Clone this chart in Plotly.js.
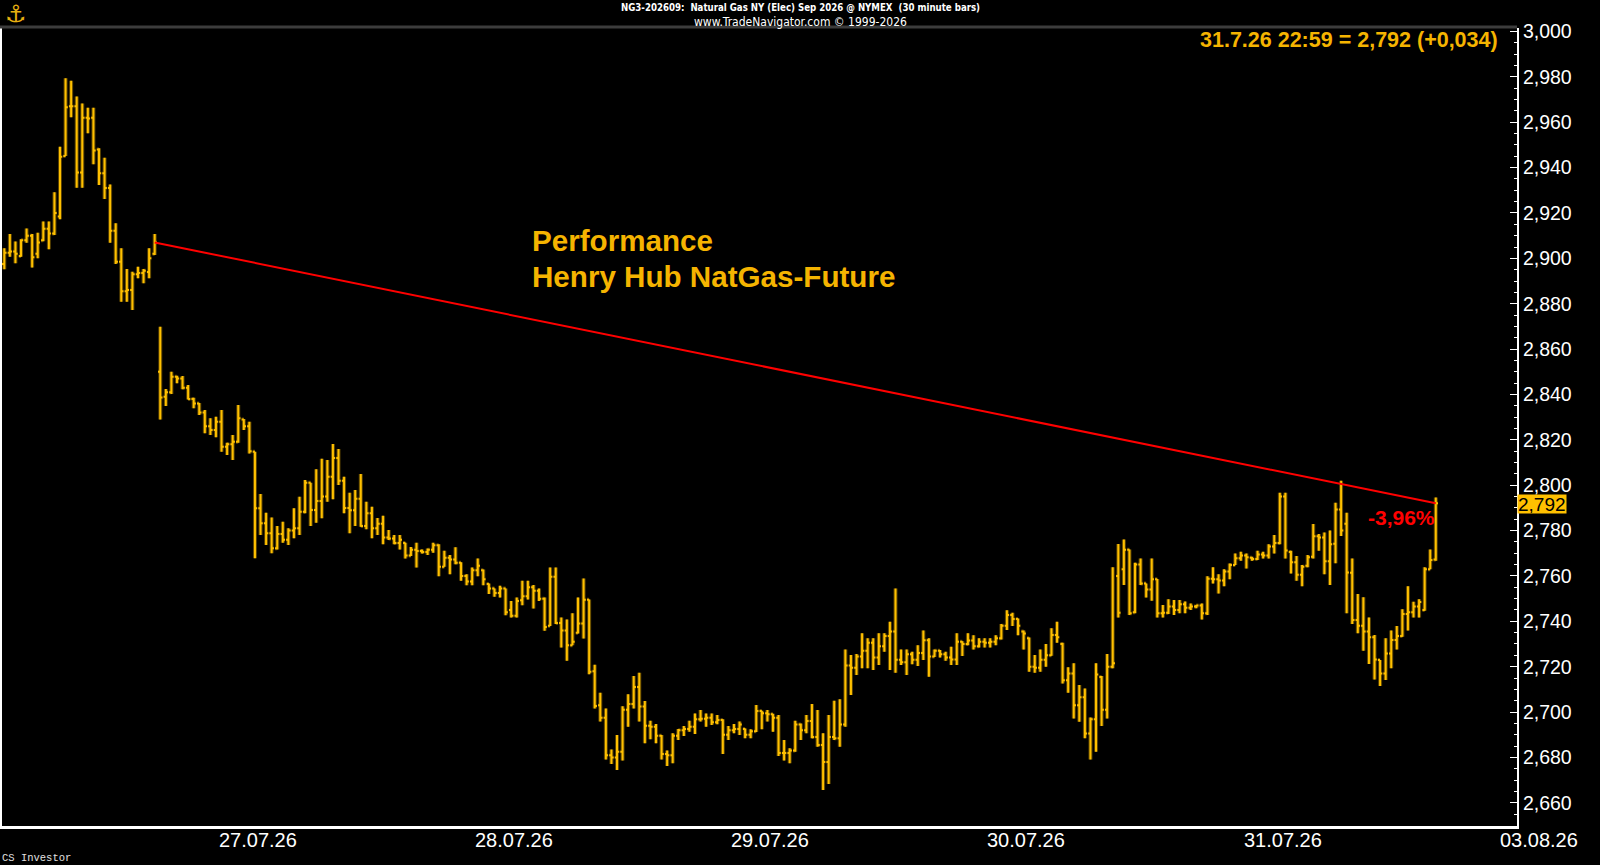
<!DOCTYPE html>
<html>
<head>
<meta charset="utf-8">
<script src="https://cdn.plot.ly/plotly-3.0.1.min.js"></script>
<style>
  html, body { margin: 0; padding: 0; background: #000; }
  #chart { width: 1600px; height: 865px; }
</style>
</head>
<body>
<div id="chart"></div>
<script>
// ---------------- DATA (30-minute bars, NG Sep 2026) ----------------
const barOpen = [
2.8975,2.9025,2.9030,2.9010,2.9080,2.9100,2.9020,2.9080,2.9130,2.9110,
2.9184,2.9451,2.9670,2.9670,2.9378,2.9620,2.9620,2.9480,2.9375,2.9310,
2.9122,2.8985,2.8855,2.8860,2.8930,2.8935,2.8940,2.9020,
2.8500,2.8390,2.8410,2.8478,2.8470,2.8430,2.8380,2.8360,2.8320,2.8260,
2.8243,2.8280,2.8170,2.8180,2.8192,2.8290,2.8260,2.8148,2.7898,2.7832,
2.7788,2.7722,2.7785,2.7760,2.7800,2.7810,2.7883,2.8011,2.7891,2.7930,
2.7950,2.8037,2.8120,2.8020,2.7900,2.7890,2.7940,2.7820,2.7876,2.7810,
2.7830,2.7770,2.7765,2.7745,2.7745,2.7690,
2.7715,2.7710,2.7705,2.7715,2.7735,2.7640,2.7680,2.7672,2.7658,2.7600,
2.7575,2.7625,2.7625,2.7565,2.7545,2.7525,2.7545,2.7450,2.7425,2.7493,
2.7510,2.7550,2.7535,2.7500,2.7380,2.7596,2.7393,2.7360,2.7295,2.7350,
2.7390,2.7495,2.7180,2.7030,2.6975,2.6810,2.6800,2.6825,2.7010,2.7035,
2.7110,2.7025,2.6940,2.6935,2.6895,2.6815,
2.6810,2.6895,2.6920,2.6925,2.6935,2.6968,2.6970,2.6975,2.6955,2.6965,
2.6900,2.6920,2.6925,2.6925,2.6900,2.6915,2.7005,2.6995,2.6990,2.6975,
2.6820,2.6820,2.6830,2.6945,2.6920,2.6960,2.6890,2.6855,2.6780,2.6890,
2.6885,2.6945,2.7205,2.7195,2.7245,2.7270,2.7305,2.7240,2.7290,2.7335,
2.7355,2.7230,2.7220,2.7255,2.7230,2.7260,
2.7317,2.7245,2.7270,2.7255,2.7240,2.7232,2.7310,2.7300,2.7315,2.7290,
2.7310,2.7305,2.7310,2.7325,2.7380,2.7428,2.7410,2.7355,2.7325,2.7200,
2.7195,2.7230,2.7250,2.7340,2.7300,2.7140,2.7170,2.7030,2.7065,2.6905,
2.6968,2.7155,2.7010,2.7200,2.7600,2.7630,2.7715,2.7440,2.7650,2.7567,
2.7540,2.7585,2.7435,2.7438,2.7465,2.7450,
2.7475,2.7460,2.7465,2.7470,2.7435,2.7588,2.7585,2.7580,2.7620,2.7648,
2.7678,2.7690,2.7680,2.7675,2.7695,2.7690,2.7730,2.7745,2.7950,2.7705,
2.7660,2.7605,2.7645,2.7685,2.7775,2.7770,2.7665,2.7742,2.7893,2.7830,
2.7614,2.7406,2.7380,2.7355,2.7330,2.7229,2.7170,2.7258,2.7318,2.7335,
2.7432,2.7440,2.7465,2.7450,2.7630,2.7673
];
const barHigh = [
2.9045,2.9107,2.9074,2.9084,2.9132,2.9107,2.9113,2.9162,2.9162,2.9291,
2.9492,2.9794,2.9783,2.9713,2.9683,2.9664,2.9664,2.9485,2.9444,2.9326,
2.9155,2.9044,2.8953,2.8941,2.8963,2.8953,2.9044,2.9107,
2.8699,2.8424,2.8500,2.8482,2.8481,2.8442,2.8385,2.8362,2.8331,2.8295,
2.8302,2.8331,2.8187,2.8221,2.8353,2.8292,2.8280,2.8148,2.7961,2.7879,
2.7858,2.7820,2.7839,2.7810,2.7898,2.7949,2.8023,2.8011,2.8070,2.8117,
2.8111,2.8182,2.8160,2.8037,2.7967,2.7979,2.8049,2.7927,2.7905,2.7855,
2.7865,2.7802,2.7780,2.7780,2.7746,2.7728,
2.7746,2.7717,2.7721,2.7746,2.7740,2.7711,2.7692,2.7726,2.7660,2.7608,
2.7637,2.7677,2.7628,2.7567,2.7545,2.7557,2.7545,2.7490,2.7505,2.7579,
2.7579,2.7560,2.7545,2.7505,2.7637,2.7637,2.7417,2.7408,2.7435,2.7505,
2.7589,2.7496,2.7208,2.7085,2.7016,2.6835,2.6899,2.7026,2.7078,2.7159,
2.7173,2.7049,2.6962,2.6947,2.6899,2.6830,
2.6906,2.6925,2.6938,2.6962,2.6994,2.7009,2.6994,2.6994,2.6987,2.6968,
2.6938,2.6947,2.6958,2.6928,2.6924,2.7031,2.7006,2.7009,2.6992,2.6987,
2.6877,2.6840,2.6962,2.6950,2.6987,2.7035,2.7009,2.6906,2.6987,2.7050,
2.7056,2.7276,2.7251,2.7256,2.7347,2.7325,2.7325,2.7347,2.7347,2.7398,
2.7545,2.7276,2.7276,2.7266,2.7295,2.7359,
2.7325,2.7276,2.7273,2.7266,2.7288,2.7347,2.7312,2.7347,2.7339,2.7325,
2.7325,2.7325,2.7339,2.7388,2.7449,2.7438,2.7412,2.7359,2.7329,2.7251,
2.7276,2.7300,2.7369,2.7398,2.7306,2.7197,2.7215,2.7119,2.7104,2.6976,
2.7215,2.7159,2.7256,2.7638,2.7741,2.7761,2.7717,2.7658,2.7677,2.7567,
2.7677,2.7587,2.7472,2.7497,2.7494,2.7494,
2.7487,2.7479,2.7472,2.7479,2.7599,2.7638,2.7608,2.7629,2.7655,2.7699,
2.7707,2.7699,2.7685,2.7711,2.7707,2.7740,2.7780,2.7967,2.7967,2.7711,
2.7688,2.7648,2.7692,2.7829,2.7785,2.7791,2.7800,2.7923,2.8020,2.7879,
2.7677,2.7520,2.7506,2.7417,2.7340,2.7229,2.7325,2.7359,2.7379,2.7453,
2.7555,2.7486,2.7497,2.7638,2.7717,2.7946
];
const barLow = [
2.8952,2.9007,2.8978,2.9007,2.9069,2.8960,2.9000,2.9075,2.9040,2.9103,
2.9172,2.9451,2.9622,2.9311,2.9311,2.9551,2.9415,2.9323,2.9262,2.9069,
2.8975,2.8809,2.8809,2.8772,2.8912,2.8890,2.8912,2.9015,
2.8290,2.8349,2.8402,2.8449,2.8423,2.8378,2.8339,2.8309,2.8229,2.8221,
2.8211,2.8148,2.8133,2.8111,2.8187,2.8243,2.8140,2.7678,2.7780,2.7736,
2.7700,2.7717,2.7746,2.7736,2.7766,2.7780,2.7876,2.7820,2.7835,2.7854,
2.7927,2.7938,2.8001,2.7876,2.7788,2.7820,2.7817,2.7806,2.7766,2.7780,
2.7740,2.7758,2.7740,2.7717,2.7677,2.7688,
2.7637,2.7699,2.7692,2.7702,2.7599,2.7640,2.7608,2.7652,2.7579,2.7559,
2.7559,2.7599,2.7559,2.7520,2.7508,2.7505,2.7427,2.7417,2.7417,2.7471,
2.7496,2.7457,2.7490,2.7358,2.7379,2.7388,2.7285,2.7226,2.7295,2.7346,
2.7324,2.7167,2.7016,2.6958,2.6791,2.6771,2.6744,2.6786,2.6935,2.7016,
2.6958,2.6862,2.6880,2.6862,2.6791,2.6762,
2.6774,2.6877,2.6894,2.6913,2.6903,2.6958,2.6935,2.6943,2.6946,2.6815,
2.6877,2.6906,2.6899,2.6884,2.6884,2.6912,2.6924,2.6958,2.6913,2.6806,
2.6786,2.6774,2.6825,2.6877,2.6906,2.6884,2.6847,2.6656,2.6683,2.6877,
2.6847,2.6935,2.7075,2.7163,2.7193,2.7193,2.7185,2.7207,2.7266,2.7185,
2.7173,2.7207,2.7163,2.7211,2.7203,2.7229,
2.7156,2.7243,2.7241,2.7226,2.7207,2.7207,2.7247,2.7295,2.7276,2.7285,
2.7285,2.7285,2.7295,2.7320,2.7362,2.7379,2.7339,2.7276,2.7178,2.7173,
2.7178,2.7200,2.7248,2.7306,2.7126,2.7085,2.6972,2.6957,2.6884,2.6791,
2.6825,2.6938,2.6972,2.7193,2.7417,2.7560,2.7428,2.7435,2.7560,2.7505,
2.7491,2.7417,2.7417,2.7432,2.7428,2.7435,
2.7435,2.7450,2.7458,2.7408,2.7428,2.7567,2.7523,2.7555,2.7585,2.7648,
2.7667,2.7633,2.7667,2.7670,2.7677,2.7677,2.7699,2.7740,2.7677,2.7611,
2.7579,2.7555,2.7638,2.7677,2.7711,2.7608,2.7560,2.7656,2.7776,2.7435,
2.7388,2.7347,2.7270,2.7212,2.7144,2.7115,2.7141,2.7193,2.7276,2.7332,
2.7359,2.7417,2.7417,2.7447,2.7629,2.7667
];
const barClose = [
2.9025,2.9030,2.9020,2.9080,2.9100,2.9005,2.9070,2.9130,2.9110,2.9200,
2.9448,2.9666,2.9670,2.9378,2.9620,2.9617,2.9475,2.9375,2.9310,2.9122,
2.8985,2.8855,2.8860,2.8930,2.8935,2.8945,2.9000,2.9070,
2.8387,2.8410,2.8478,2.8470,2.8430,2.8380,2.8360,2.8320,2.8260,2.8243,
2.8280,2.8170,2.8180,2.8192,2.8295,2.8260,2.8150,2.7898,2.7832,2.7788,
2.7722,2.7785,2.7760,2.7800,2.7810,2.7883,2.8011,2.7891,2.7930,2.7950,
2.8037,2.8120,2.8020,2.7900,2.7890,2.7940,2.7820,2.7876,2.7810,2.7830,
2.7770,2.7765,2.7745,2.7760,2.7690,2.7715,
2.7710,2.7705,2.7715,2.7735,2.7640,2.7680,2.7672,2.7658,2.7600,2.7575,
2.7625,2.7645,2.7585,2.7545,2.7525,2.7545,2.7440,2.7425,2.7490,2.7510,
2.7550,2.7535,2.7500,2.7375,2.7596,2.7393,2.7360,2.7295,2.7310,2.7390,
2.7495,2.7178,2.7027,2.6975,2.6810,2.6800,2.6825,2.7010,2.7035,2.7110,
2.7025,2.6940,2.6935,2.6895,2.6815,2.6810,
2.6895,2.6920,2.6925,2.6935,2.6968,2.6970,2.6975,2.6955,2.6965,2.6900,
2.6920,2.6925,2.6945,2.6900,2.6915,2.7005,2.6995,2.6990,2.6975,2.6820,
2.6820,2.6830,2.6945,2.6920,2.6960,2.6890,2.6855,2.6780,2.6890,2.6885,
2.6945,2.7205,2.7195,2.7245,2.7270,2.7305,2.7240,2.7290,2.7335,2.7355,
2.7230,2.7220,2.7255,2.7230,2.7260,2.7317,
2.7245,2.7270,2.7255,2.7240,2.7232,2.7310,2.7300,2.7315,2.7290,2.7310,
2.7305,2.7310,2.7325,2.7380,2.7428,2.7410,2.7380,2.7346,2.7200,2.7195,
2.7230,2.7250,2.7340,2.7330,2.7140,2.7170,2.7030,2.7065,2.6905,2.6968,
2.7165,2.7010,2.7200,2.7215,2.7438,2.7715,2.7435,2.7650,2.7567,2.7540,
2.7585,2.7435,2.7438,2.7465,2.7450,2.7475,
2.7460,2.7465,2.7470,2.7435,2.7588,2.7585,2.7580,2.7620,2.7648,2.7678,
2.7690,2.7682,2.7675,2.7695,2.7690,2.7730,2.7745,2.7950,2.7712,2.7660,
2.7605,2.7640,2.7682,2.7775,2.7770,2.7665,2.7740,2.7893,2.7800,2.7615,
2.7406,2.7380,2.7355,2.7330,2.7232,2.7170,2.7258,2.7318,2.7335,2.7432,
2.7440,2.7465,2.7485,2.7630,2.7670,2.7920
];

// session structure: 28 bars of the previous Friday, then sessions of 46 bars
const fridayBars = 28;
const barsPerSession = 46;
const dateLabels = ['27.07.26','28.07.26','29.07.26','30.07.26','31.07.26','03.08.26'];
const yTickStart = 2.660, yTickStep = 0.020, yMinorStep = 0.005;

// ---------------- LAYOUT GEOMETRY ----------------
const W = 1600, Hh = 865;
const L = 2, R = 1517, T = 28, B = 826;
const PW = R - L, PH = B - T;
const barPx0 = 4.3, barStep = 5.57;          // pixel position of bar 0 and spacing
const xr0 = (L - barPx0) / barStep, xr1 = (R - barPx0) / barStep;
const yr0 = 3.0 - (B - 31.5) / 2268.5, yr1 = 3.0 + (31.5 - T) / 2268.5;
const pxX = px => (px - L) / PW;
const pxY = py => (B - py) / PH;
const idxToPaper = i => (i - xr0) / (xr1 - xr0);

const xIdx = barClose.map((_, i) => i);
const lastI = barClose.length - 1;
const refI = fridayBars - 1;
const perf = (barClose[lastI] / barClose[refI] - 1) * 100;
const perfText = (perf >= 0 ? '+' : '') + perf.toFixed(2).replace('.', ',') + '%';
const fmt3 = v => v.toFixed(3).replace('.', ',');

const gold = '#ffc000';
const textGold = '#f5b400';
const sans = 'Liberation Sans, Arial, sans-serif';
const narrow = 'Liberation Sans Narrow, Arial Narrow, DejaVu Sans Condensed, Liberation Sans, sans-serif';

const traces = [
  { type: 'ohlc', x: xIdx, open: barOpen, high: barHigh, low: barLow, close: barClose,
    increasing: { line: { color: '#5a4300', width: 4 } },
    decreasing: { line: { color: '#5a4300', width: 4 } },
    tickwidth: 0.4, hoverinfo: 'skip', showlegend: false },
  { type: 'ohlc', x: xIdx, open: barOpen, high: barHigh, low: barLow, close: barClose,
    increasing: { line: { color: gold, width: 2 } },
    decreasing: { line: { color: gold, width: 2 } },
    tickwidth: 0.4, hoverinfo: 'skip', showlegend: false },
  { type: 'scatter', mode: 'lines', x: [xIdx[refI], xIdx[lastI]], y: [barClose[refI], barClose[lastI]],
    line: { color: '#ff0000', width: 2 }, hoverinfo: 'skip', showlegend: false }
];

const annotations = [
  { text: 'NG3-202609:\u00a0 Natural Gas NY (Elec) Sep 2026 @ NYMEX\u00a0 (30 minute bars)',
    x: pxX(800), y: pxY(8), font: { family: narrow, size: 9.6, color: '#ffffff', weight: 'bold' } },
  { text: 'www.TradeNavigator.com © 1999-2026',
    x: pxX(800), y: pxY(22), font: { family: narrow, size: 12, color: '#ffffff' } },
  { text: '31.7.26 22:59 = ' + fmt3(barClose[lastI]) + ' (+0,034)',
    x: pxX(1500), xanchor: 'right', y: pxY(40), font: { family: sans, size: 21.5, color: textGold, weight: 'bold' } },
  { text: 'Performance', x: pxX(530), xanchor: 'left', y: pxY(241),
    font: { family: sans, size: 29.6, color: textGold, weight: 'bold' } },
  { text: 'Henry Hub NatGas-Future', x: pxX(530), xanchor: 'left', y: pxY(276),
    font: { family: sans, size: 29.6, color: textGold, weight: 'bold' } },
  { text: perfText, x: pxX(1366), xanchor: 'left', y: pxY(517),
    font: { family: sans, size: 21, color: '#ff0000', weight: 'bold' } },
  { text: fmt3(barClose[lastI]), xref: 'paper', x: 1, xanchor: 'left', yref: 'y', y: barClose[lastI],
    yshift: -1, bgcolor: gold, borderpad: 0, height: 18, valign: 'middle',
    font: { family: sans, size: 19, color: '#000000' } },
  { text: 'CS Investor', x: pxX(0), xanchor: 'left', y: pxY(858),
    font: { family: 'Liberation Mono, DejaVu Sans Mono, monospace', size: 10.5, color: '#e0e0e0' } },
  { text: '\u2693', x: pxX(16), y: pxY(14), font: { family: 'DejaVu Sans', size: 24, color: '#e8b010' } }
];
dateLabels.forEach((lab, k) => {
  const idx = fridayBars + k * barsPerSession + 17.5;
  annotations.push({ text: lab, x: idxToPaper(idx), y: pxY(840),
    font: { family: sans, size: 20, color: '#ffffff' } });
});
annotations.forEach(a => {
  a.showarrow = false;
  if (!a.xref) a.xref = 'paper';
  if (!a.yref) a.yref = 'paper';
  if (!a.yanchor) a.yanchor = 'middle';
  if (!a.xanchor) a.xanchor = 'center';
});

const layout = {
  width: W, height: Hh,
  paper_bgcolor: '#000000', plot_bgcolor: '#000000',
  margin: { l: L, r: W - R, t: T, b: Hh - B, pad: 0 },
  separators: ',.',
  showlegend: false,
  dragmode: false,
  xaxis: {
    range: [xr0, xr1], showgrid: false, zeroline: false,
    showticklabels: false, ticks: '',
    showline: true, linecolor: '#ffffff', linewidth: 3,
    rangeslider: { visible: false }, fixedrange: true
  },
  yaxis: {
    range: [yr0, yr1], side: 'right', showgrid: false, zeroline: false,
    showline: true, linecolor: '#ffffff', linewidth: 2, mirror: true,
    tick0: yTickStart, dtick: yTickStep, tickformat: '.3f',
    ticks: 'inside', ticklen: 7, tickwidth: 1, tickcolor: '#ffffff',
    minor: { dtick: yMinorStep, ticks: 'inside', ticklen: 3, tickwidth: 1, tickcolor: '#ffffff', showgrid: false },
    tickfont: { family: sans, size: 19.5, color: '#ffffff' },
    fixedrange: true
  },
  shapes: [
    { type: 'line', xref: 'paper', yref: 'paper', x0: 0 - L / PW, x1: 1, y0: 1 + 1 / PH, y1: 1 + 1 / PH,
      line: { color: '#3c3c3c', width: 3 } }
  ],
  annotations: annotations
};

Plotly.newPlot('chart', traces, layout, { staticPlot: true, displayModeBar: false });
</script>
</body>
</html>
